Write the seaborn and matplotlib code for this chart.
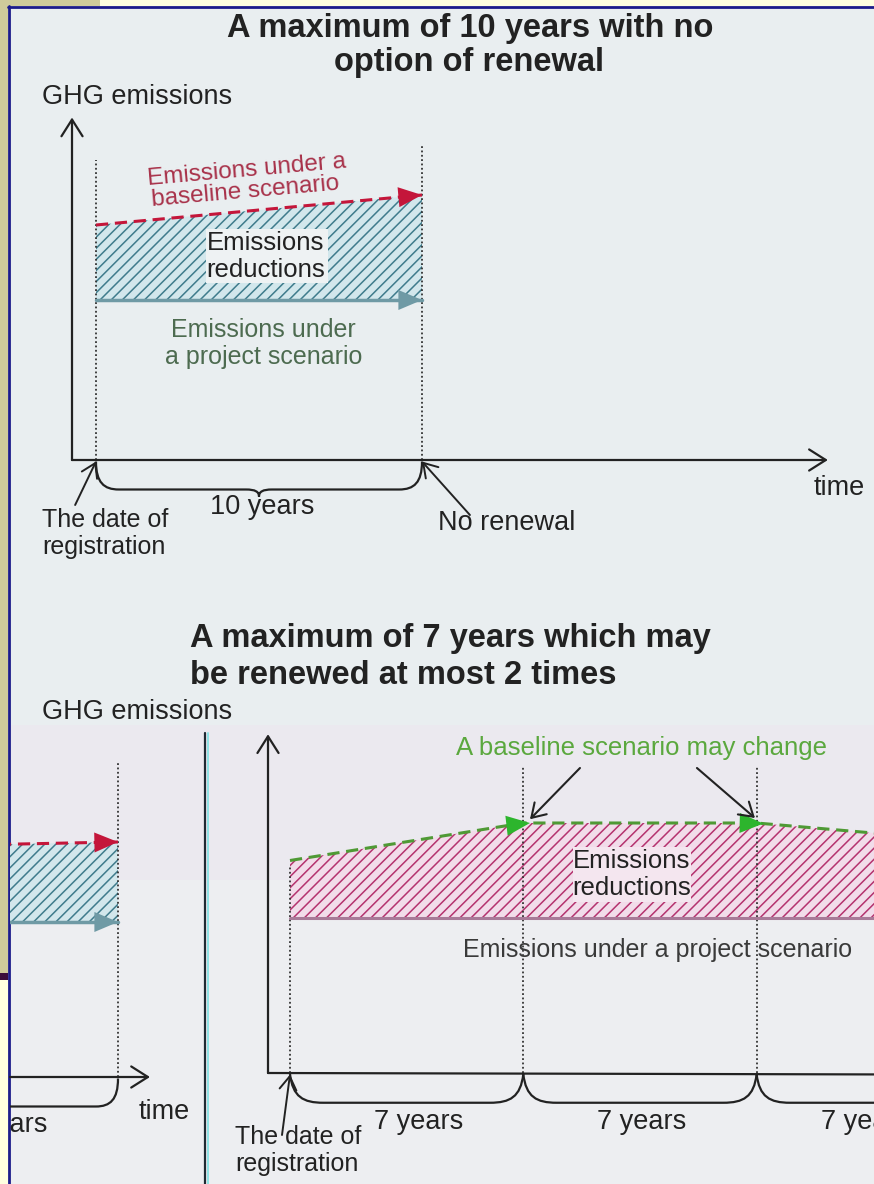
import numpy as np
import pandas as pd
import matplotlib
matplotlib.use("Agg")
import matplotlib.pyplot as plt
from matplotlib.path import Path
from matplotlib.patches import PathPatch, Rectangle
import seaborn as sns

# ---------------- data ----------------
top_years = [0, 10]
top_baseline = [9.4, 10.6]
top_project = [6.4, 6.4]

frag_years = [0, 10]
frag_baseline = [9.2, 9.4]
frag_project = [6.2, 6.2]

bot_years = [0, 7, 14, 21]
bot_baseline = [8.5, 10.0, 10.0, 9.2]
bot_project = [6.2, 6.2, 6.2, 6.2]

top_period_label = "10 years"
bot_period_labels = ["7 years", "7 years", "7 years"]

# ---------------- style ----------------
W, H = 874, 1184
sns.set_theme(style="white")
plt.rcParams["font.family"] = ["Liberation Sans", "DejaVu Sans"]
plt.rcParams["hatch.linewidth"] = 1.1

OLIVE = "#CFCB9B"
PANEL = "#E9EEF0"
INK = "#222222"
RED = "#C4163A"
RED_TXT = "#A8324A"
TEAL = "#6F9AA5"
TEAL_HATCH = "#3F7C8C"
TEAL_FILL = "#D2E7EC"
GREEN_TXT = "#4D6B50"
LGREEN = "#5BA83E"
GDASH = "#4F9A35"
GHEAD = "#2DB52D"
MAG_HATCH = "#B5336F"
MAG_FILL = "#F2DCEA"
MAUVE = "#A87A98"

fig = plt.figure(figsize=(W / 100, H / 100), dpi=100)


def px_axes(x0, y0, x1, y1, z):
    ax = fig.add_axes([x0 / W, 1 - y1 / H, (x1 - x0) / W, (y1 - y0) / H], zorder=z)
    ax.set_axis_off()
    ax.patch.set_alpha(0)
    return ax


def lims(x0, y0, x1, y1, ox, sx, oy, sy):
    return ((x0 - ox) / sx, (x1 - ox) / sx), ((oy - y1) / sy, (oy - y0) / sy)


def arrow(ax, xy, xytext, color, style, lw, ms=20, z=6):
    ax.annotate("", xy=xy, xytext=xytext, xycoords="data", textcoords="data",
                arrowprops=dict(arrowstyle=style, color=color, lw=lw,
                                shrinkA=0, shrinkB=0, mutation_scale=ms),
                zorder=z, annotation_clip=False)


OPEN = "->,head_length=0.6,head_width=0.38"
SOLID = "-|>,head_length=0.85,head_width=0.36"


def curly_brace(ax, a, b, y0, d, tip, r, rc, color=INK, lw=1.6):
    m = (a + b) / 2
    yb = y0 - d
    verts = [(a, y0), (a, y0 - d * 0.75), (a + r * 0.35, yb), (a + r, yb),
             (m - rc, yb),
             (m - rc * 0.3, yb), (m, yb - tip * 0.3), (m, yb - tip),
             (m, yb - tip * 0.3), (m + rc * 0.3, yb), (m + rc, yb),
             (b - r, yb),
             (b - r * 0.35, yb), (b, y0 - d * 0.75), (b, y0)]
    C = Path.CURVE4
    codes = [Path.MOVETO, C, C, C, Path.LINETO, C, C, C, C, C, C, Path.LINETO, C, C, C]
    ax.add_patch(PathPatch(Path(verts, codes), fill=False, edgecolor=color, lw=lw, zorder=5))


def segment_brace(ax, a, b, y0, d, r, color=INK, lw=1.6):
    yb = y0 - d
    verts = [(a, y0), (a + r * 0.08, y0 - d * 0.8), (a + r * 0.4, yb), (a + r, yb),
             (b - r, yb),
             (b - r * 0.4, yb), (b - r * 0.08, y0 - d * 0.8), (b, y0)]
    C = Path.CURVE4
    codes = [Path.MOVETO, C, C, C, Path.LINETO, C, C, C]
    ax.add_patch(PathPatch(Path(verts, codes), fill=False, edgecolor=color, lw=lw, zorder=5))


def dotted(ax, x, top):
    ax.plot([x, x], [0, top], color="#333333", lw=1.3, linestyle=(0, (1, 1.4)), zorder=3)


# ---------------- background ----------------
bg = px_axes(0, 0, W, H, 0)


def rect(ax, x0, y0, x1, y1, c):
    ax.add_patch(Rectangle((x0, y0), x1 - x0, y1 - y0, facecolor=c, edgecolor="none", lw=0))


rect(bg, 0, 0, W, H, "#FFFFE0")
rect(bg, 0, 0, 100, 6, OLIVE)
rect(bg, 0, 0, 8, 973, OLIVE)
rect(bg, 0, 973, 8, 980, "#3B0D3B")
rect(bg, 8, 6, W, H, PANEL)
rect(bg, 10, 725, W, H, "#EDEEF1")
rect(bg, 10, 725, W, 880, "#EBE9EF")
bg.plot([8, W], [7, 7], color="#1C1C8A", lw=2)
bg.plot([9, 9], [6, H], color="#1C1C8A", lw=2)
bg.set_xlim(0, W)
bg.set_ylim(H, 0)

# ---------------- fragment of a second copy (bottom-left) ----------------
fr = px_axes(10, 725, 204, H, 1)
fxl, fyl = lims(10, 725, 204, H, -128, 24.6, 1077, 25)
fd = pd.DataFrame({"t": frag_years, "base": frag_baseline, "proj": frag_project})
fr.fill_between(fd["t"], fd["proj"], fd["base"], facecolor=TEAL_FILL, edgecolor=TEAL_HATCH,
                hatch="///", linewidth=0, zorder=2)
sns.lineplot(data=fd, x="t", y="base", ax=fr, color=RED, lw=2.2, linestyle=(0, (4, 2.2)), zorder=4)
sns.lineplot(data=fd, x="t", y="proj", ax=fr, color=TEAL, lw=2.5, zorder=4)
t_end = frag_years[-1]
arrow(fr, (t_end, frag_baseline[-1]), (t_end - 0.8, np.interp(t_end - 0.8, frag_years, frag_baseline)), RED, SOLID, 0)
arrow(fr, (t_end, frag_project[-1]), (t_end - 0.8, frag_project[-1]), TEAL, SOLID, 0)
dotted(fr, t_end, 12.56)
arrow(fr, (11.3, 0), (fxl[0], 0), INK, OPEN, 1.6)
curly_brace(fr, frag_years[0], frag_years[-1], -0.06, 1.12, 0.28, 0.9, 0.4)
fr.text(5, -1.92, top_period_label, ha="center", va="center", fontsize=19.5, color=INK, clip_on=True)
fr.text(11.9, -1.4, "time", ha="center", va="center", fontsize=19.5, color=INK, clip_on=True)
fr.set_xlim(*fxl)
fr.set_ylim(*fyl)

# ---------------- top chart ----------------
ax = px_axes(10, 90, W, 600, 2)
txl, tyl = lims(10, 90, W, 600, 96, 32.6, 460, 25)
td = pd.DataFrame({"t": top_years, "base": top_baseline, "proj": top_project})
ax.fill_between(td["t"], td["proj"], td["base"], facecolor=TEAL_FILL, edgecolor=TEAL_HATCH,
                hatch="///", linewidth=0, zorder=2)
sns.lineplot(data=td, x="t", y="base", ax=ax, color=RED, lw=2.2, linestyle=(0, (4, 2.2)), zorder=4)
sns.lineplot(data=td, x="t", y="proj", ax=ax, color=TEAL, lw=2.5, zorder=4)
t0, t1 = top_years[0], top_years[-1]
arrow(ax, (t1, top_baseline[-1]), (t1 - 0.8, np.interp(t1 - 0.8, top_years, top_baseline)), RED, SOLID, 0)
arrow(ax, (t1, top_project[-1]), (t1 - 0.8, top_project[-1]), TEAL, SOLID, 0)
dotted(ax, t0, 12.0)
dotted(ax, t1, 12.6)
y_ax_t = -0.736
arrow(ax, (y_ax_t, 13.7), (y_ax_t, 0), INK, OPEN, 1.6)
arrow(ax, (22.45, 0), (y_ax_t, 0), INK, OPEN, 1.6)
curly_brace(ax, t0, t1, -0.06, 1.12, 0.28, 0.7, 0.4)
arrow(ax, (t0, -0.06), (-0.64, -1.8), INK, OPEN, 1.4, ms=16)
arrow(ax, (t1, -0.06), (11.47, -2.2), INK, OPEN, 1.4, ms=16)
ax.set_xlim(*txl)
ax.set_ylim(*tyl)

# ---------------- bottom chart ----------------
bx = px_axes(210, 725, W, H, 3)
bxl, byl = lims(210, 725, W, H, 290, 33.33, 1073, 25)
bd = pd.DataFrame({"t": bot_years, "base": bot_baseline, "proj": bot_project})
bx.fill_between(bd["t"], bd["proj"], bd["base"], facecolor=MAG_FILL, edgecolor=MAG_HATCH,
                hatch="///", linewidth=0, zorder=2)
sns.lineplot(data=bd, x="t", y="base", ax=bx, color=GDASH, lw=2.2, linestyle=(0, (4, 2.2)), zorder=4)
sns.lineplot(data=bd, x="t", y="proj", ax=bx, color=MAUVE, lw=2.2, zorder=4)
for i in range(1, len(bot_years) - 1):
    tt = bot_years[i] + 0.2
    arrow(bx, (tt, np.interp(tt, bot_years, bot_baseline)),
          (tt - 0.7, np.interp(tt - 0.7, bot_years, bot_baseline)), GHEAD, SOLID, 0)
dotted(bx, bot_years[0], 8.3)
for t in bot_years[1:-1]:
    dotted(bx, t, 12.3)
yb_t = -0.66
arrow(bx, (yb_t, 13.55), (yb_t, 0), INK, OPEN, 1.6)
bx.plot([yb_t, bxl[1] + 1], [0, -0.06], color=INK, lw=1.6, zorder=5)
for a, b in zip(bot_years[:-1], bot_years[1:]):
    segment_brace(bx, a, b, -0.04, 1.15, 1.0)
arrow(bx, (bot_years[0], -0.06), (-0.24, -2.48), INK, OPEN, 1.4, ms=16)
arrow(bx, (bot_years[1] + 0.2, 10.15), (8.7, 12.2), INK, OPEN, 1.5, ms=16)
arrow(bx, (bot_years[2] - 0.05, 10.2), (12.21, 12.2), INK, OPEN, 1.5, ms=16)
bx.set_xlim(*bxl)
bx.set_ylim(*byl)

# ---------------- overlay texts ----------------
ov = px_axes(0, 0, W, H, 10)
ov.set_xlim(0, W)
ov.set_ylim(H, 0)
T = dict(va="center", color=INK)
ov.text(470, 28, "A maximum of 10 years with no", ha="center", fontsize=23.5, weight="bold", **T)
ov.text(469, 63, "option of renewal", ha="center", fontsize=23.5, weight="bold", **T)
ov.text(42, 97, "GHG emissions", ha="left", fontsize=19.5, **T)
ov.text(247, 170, "Emissions under a", ha="center", va="center", fontsize=17.5, color=RED_TXT,
        rotation=5, rotation_mode="anchor")
ov.text(245, 192, "baseline scenario", ha="center", va="center", fontsize=17.5, color=RED_TXT,
        rotation=5, rotation_mode="anchor")
ov.add_patch(Rectangle((206, 229), 122, 54, facecolor="#EEF2F3", edgecolor="none", zorder=1))
ov.text(266, 243, "Emissions", ha="center", fontsize=18.5, **T)
ov.text(266, 270, "reductions", ha="center", fontsize=18.5, **T)
ov.text(263, 330, "Emissions under", ha="center", va="center", fontsize=18, color=GREEN_TXT)
ov.text(264, 357, "a project scenario", ha="center", va="center", fontsize=18, color=GREEN_TXT)
ov.text(839, 488, "time", ha="center", fontsize=19.5, **T)
ov.text(262, 507, top_period_label, ha="center", fontsize=19.5, **T)
ov.text(42, 520, "The date of", ha="left", fontsize=18, **T)
ov.text(42, 547, "registration", ha="left", fontsize=18, **T)
ov.text(438, 523, "No renewal", ha="left", fontsize=19.5, **T)

ov.text(190, 639, "A maximum of 7 years which may", ha="left", fontsize=23.5, weight="bold", **T)
ov.text(190, 676, "be renewed at most 2 times", ha="left", fontsize=23.5, weight="bold", **T)
ov.text(42, 712, "GHG emissions", ha="left", fontsize=19.5, **T)
ov.text(456, 748, "A baseline scenario may change", ha="left", va="center", fontsize=18.5, color=LGREEN)
ov.add_patch(Rectangle((573, 847), 118, 55, facecolor="#F4E6EF", edgecolor="none", zorder=1))
ov.text(632, 861, "Emissions", ha="center", fontsize=18.5, **T)
ov.text(632, 888, "reductions", ha="center", fontsize=18.5, **T)
ov.text(463, 950, "Emissions under a project scenario", ha="left", va="center", fontsize=18, color="#3A3A3A")
for xc, lab in zip([419, 642, 866], bot_period_labels):
    ov.text(xc, 1122, lab, ha="center", fontsize=19.5, **T)
ov.text(235, 1137, "The date of", ha="left", fontsize=18, **T)
ov.text(235, 1164, "registration", ha="left", fontsize=18, **T)
# separator between overlapping scanned pictures
ov.plot([205, 205], [733, H], color="#1F2A33", lw=1.6)
ov.plot([208, 208], [733, H], color="#8FE3E6", lw=1.4)

fig.savefig("out.png", dpi=100)
